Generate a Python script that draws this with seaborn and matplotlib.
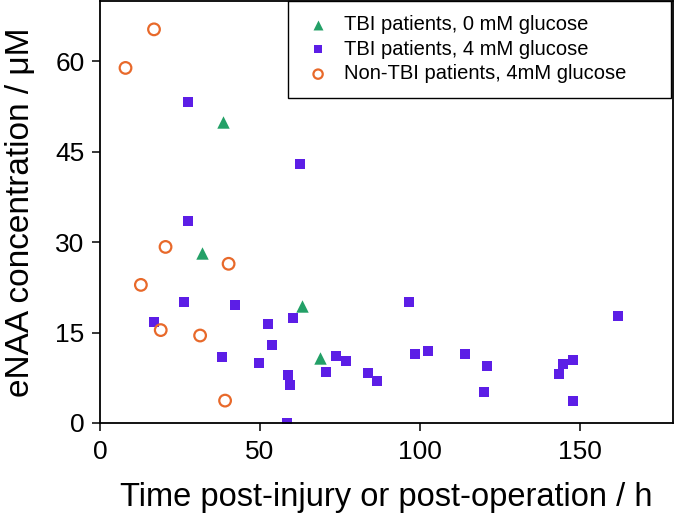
import pandas as pd
import seaborn as sns
import matplotlib.pyplot as plt

# TBI patients, 0 mM glucose
tbi0_time = [38.3, 31.9, 63.2, 68.9]
tbi0_naa = [50.0, 28.2, 19.4, 10.8]

# TBI patients, 4 mM glucose
tbi4_time = [27.6, 27.6, 62.4, 26.3, 42.2, 16.9, 52.6, 60.2, 53.8, 38.2,
             49.8, 58.6, 59.3, 58.3, 73.8, 70.7, 76.9, 83.6, 86.5, 96.7,
             98.3, 102.4, 113.9, 120.8, 120.0, 143.3, 144.6, 147.9, 147.9, 161.8]
tbi4_naa = [53.3, 33.5, 42.9, 20.1, 19.6, 16.7, 16.4, 17.4, 12.9, 11.0,
            9.9, 8.0, 6.3, 0.0, 11.1, 8.4, 10.2, 8.2, 6.9, 20.1,
            11.4, 12.0, 11.4, 9.5, 5.1, 8.1, 9.8, 10.4, 3.6, 17.7]

# Non-TBI patients, 4 mM glucose
non_time = [16.9, 8.0, 20.5, 40.2, 12.8, 19.0, 31.3, 39.1]
non_naa = [65.3, 58.9, 29.2, 26.4, 22.9, 15.4, 14.5, 3.7]

x_ticks = [0, 50, 100, 150]
y_ticks = [0, 15, 30, 45, 60]

green = "#23a067"
purple = "#5c1ee6"
orange = "#e8692a"

sns.set_theme(style="ticks")
plt.rcParams["font.family"] = ["Liberation Sans", "DejaVu Sans"]

df0 = pd.DataFrame({"t": tbi0_time, "c": tbi0_naa})
df4 = pd.DataFrame({"t": tbi4_time, "c": tbi4_naa})
dfn = pd.DataFrame({"t": non_time, "c": non_naa})

fig = plt.figure(figsize=(6.75, 5.17), dpi=100)
ax = fig.add_axes([0.148, 0.182, 0.849, 0.816])

sns.scatterplot(data=df0, x="t", y="c", marker="^", s=80, color=green,
                edgecolor=green, linewidth=0, label="TBI patients, 0 mM glucose", ax=ax)
sns.scatterplot(data=df4, x="t", y="c", marker="s", s=42, color=purple,
                edgecolor=purple, linewidth=0, label="TBI patients, 4 mM glucose", ax=ax)
sns.scatterplot(data=dfn, x="t", y="c", marker="o", s=70, facecolors="none",
                edgecolor=orange, linewidth=1.6, label="Non-TBI patients, 4mM glucose", ax=ax)

ax.set_xlim(0, 179)
ax.set_ylim(0, 70)
ax.set_xticks(x_ticks)
ax.set_yticks(y_ticks)
ax.tick_params(axis="both", direction="out", length=6, width=1.1,
               labelsize=19, color="black", labelcolor="black")
ax.tick_params(axis="y", pad=5)
ax.tick_params(axis="x", pad=6)
for sp in ax.spines.values():
    sp.set_visible(True)
    sp.set_color("black")
    sp.set_linewidth(1.3)

ax.set_xlabel("Time post-injury or post-operation / h", fontsize=23.5,
              color="black", labelpad=13)
ax.set_ylabel("eNAA concentration / \u03bcM", fontsize=24,
              color="black", labelpad=14)

leg = ax.legend(loc="upper left", bbox_to_anchor=(0.328, 0.0, 0.6685, 1.0),
                mode="expand", borderaxespad=0, fancybox=False, frameon=True,
                edgecolor="black", fontsize=14.5, borderpad=0.7,
                labelspacing=0.28, handlelength=1.6, handletextpad=0.5,
                markerscale=0.8)
leg.get_frame().set_linewidth(1.0)
leg.get_frame().set_alpha(1)
for t in leg.get_texts():
    t.set_color("black")

fig.savefig("out.png", dpi=100)
